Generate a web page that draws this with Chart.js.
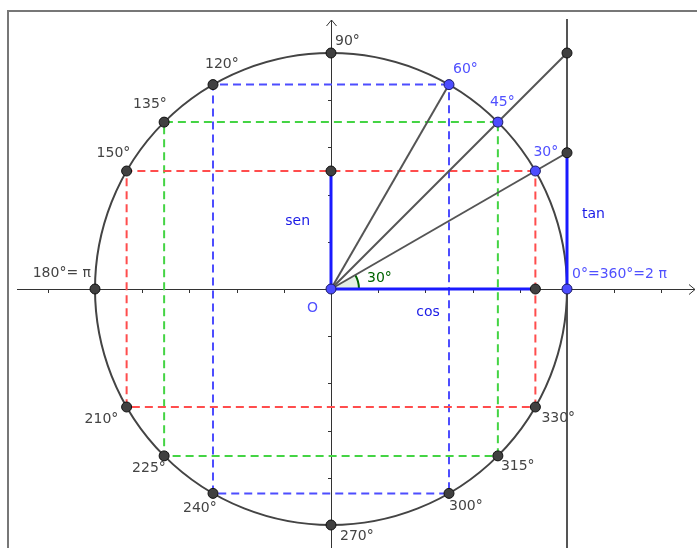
<!DOCTYPE html>
<html>
<head>
<meta charset="utf-8">
<script src="https://cdn.jsdelivr.net/npm/chart.js@4"></script>
<style>
  body { margin: 0; background: #fff; }
  canvas { display: block; }
</style>
</head>
<body>
<canvas id="circulo" width="697" height="548"></canvas>
<script>
// -------------------- DADOS --------------------
const angulos = [0, 30, 45, 60, 90, 120, 135, 150, 180, 210, 225, 240, 270, 300, 315, 330];
const rotulosAngulos = ['0°=360°=2 π', '30°', '45°', '60°', '90°', '120°', '135°', '150°',
  '180°= π', '210°', '225°', '240°', '270°', '300°', '315°', '330°'];
const angulosDestaque = [0, 30, 45, 60];     // pontos azuis
const angulosProjecao = [30, 45, 60];        // retângulos tracejados
const coresProjecao = ['#ff4d4d', '#44d444', '#4d4dff'];
const angulosTangente = [30, 45];            // raios prolongados até a reta tangente
const anguloExemplo = 30;                    // sen, cos e tan desenhados
const ticksX = [-1.2, -1.0, -0.8, -0.6, -0.4, -0.2, 0.2, 0.4, 0.6, 0.8, 1.0, 1.2, 1.4];
const ticksY = [-1.0, -0.8, -0.6, -0.4, -0.2, 0.2, 0.4, 0.6, 0.8, 1.0];

// -------------------- LAYOUT --------------------
const LARG = 697, ALT = 548;
const ORIGEM_PX = { x: 331, y: 289 };
const UNIDADE = 236;
const FONTE = '14px "DejaVu Sans", sans-serif';

// deslocamento dos rótulos em relação ao ponto: [dx, dy, alinhamento]
const deslocRotulos = {
  0: [5, -15, 'left'], 30: [-2, -19, 'left'], 45: [-8, -20, 'left'], 60: [4, -15, 'left'],
  90: [4, -12, 'left'], 120: [-8, -20, 'left'], 135: [-31, -18, 'left'], 150: [-30, -18, 'left'],
  180: [-4, -16, 'right'], 210: [-42, 12, 'left'], 225: [-32, 12, 'left'], 240: [-30, 15, 'left'],
  270: [9, 11, 'left'], 300: [0, 13, 'left'], 315: [3, 10, 'left'], 330: [6, 11, 'left'],
};

const rad = g => g * Math.PI / 180;
const pt = g => ({ x: Math.cos(rad(g)), y: Math.sin(rad(g)) });

// -------------------- DATASETS --------------------
const datasets = [];

// pontos (no topo)
const pontosCinza = angulos.filter(a => !angulosDestaque.includes(a)).map(pt);
const ex = pt(anguloExemplo);
const tanEx = Math.tan(rad(anguloExemplo));
pontosCinza.push({ x: 0, y: ex.y }, { x: ex.x, y: 0 });
angulosTangente.forEach(a => pontosCinza.push({ x: 1, y: Math.tan(rad(a)) }));
const pontosAzuis = angulosDestaque.map(pt).concat([{ x: 0, y: 0 }]);

datasets.push({
  data: pontosAzuis, showLine: false, order: 0,
  pointRadius: 5, pointBackgroundColor: '#4d4dff', pointBorderColor: '#1a1a66', pointBorderWidth: 1,
});
datasets.push({
  data: pontosCinza, showLine: false, order: 0,
  pointRadius: 5, pointBackgroundColor: '#404040', pointBorderColor: '#111', pointBorderWidth: 1,
});

// sen, cos, tan
const segmentosAzuis = [
  [{ x: 0, y: 0 }, { x: 0, y: ex.y }],
  [{ x: 0, y: 0 }, { x: ex.x, y: 0 }],
  [{ x: 1, y: 0 }, { x: 1, y: tanEx }],
];
segmentosAzuis.forEach(seg => datasets.push({
  data: seg, showLine: true, order: 1, pointRadius: 0,
  borderColor: '#1a1aff', borderWidth: 3,
}));

// raios a partir da origem
const raios = [[{ x: 0, y: 0 }, pt(60)]];
angulosTangente.forEach(a => raios.push([{ x: 0, y: 0 }, { x: 1, y: Math.tan(rad(a)) }]));
raios.forEach(r => datasets.push({
  data: r, showLine: true, order: 2, pointRadius: 0,
  borderColor: '#555', borderWidth: 2,
}));

// projeções tracejadas
angulosProjecao.forEach((a, i) => {
  const p = pt(a);
  datasets.push({
    data: [{ x: p.x, y: p.y }, { x: -p.x, y: p.y }, { x: -p.x, y: -p.y }, { x: p.x, y: -p.y }, { x: p.x, y: p.y }],
    showLine: true, order: 3, pointRadius: 0,
    borderColor: coresProjecao[i], borderWidth: 2, borderDash: [8, 5],
  });
});

// -------------------- PLUGIN DE DESENHO --------------------
const desenhoCirculo = {
  id: 'desenhoCirculo',
  beforeDatasetsDraw(chart) {
    const { ctx, scales: { x, y } } = chart;
    const ox = x.getPixelForValue(0), oy = y.getPixelForValue(0);
    const r = x.getPixelForValue(1) - ox;
    ctx.save();

    // moldura
    ctx.strokeStyle = '#777';
    ctx.lineWidth = 2;
    ctx.beginPath();
    ctx.moveTo(LARG, 11); ctx.lineTo(8, 11); ctx.lineTo(8, ALT);
    ctx.stroke();

    // eixos
    ctx.strokeStyle = '#333';
    ctx.lineWidth = 1;
    ctx.beginPath();
    ctx.moveTo(17, oy + 0.5); ctx.lineTo(LARG - 2, oy + 0.5);
    ctx.moveTo(ox + 0.5, ALT); ctx.lineTo(ox + 0.5, 20);
    // setas
    ctx.moveTo(LARG - 8, oy - 4.5); ctx.lineTo(LARG - 2, oy + 0.5); ctx.lineTo(LARG - 8, oy + 5.5);
    ctx.moveTo(ox - 4.5, 26); ctx.lineTo(ox + 0.5, 20); ctx.lineTo(ox + 5.5, 26);
    // marcas
    ticksX.forEach(t => {
      const px = Math.round(x.getPixelForValue(t)) + 0.5;
      ctx.moveTo(px, oy); ctx.lineTo(px, oy + 4);
    });
    ticksY.forEach(t => {
      const py = Math.round(y.getPixelForValue(t)) + 0.5;
      ctx.moveTo(ox - 3, py); ctx.lineTo(ox + 1, py);
    });
    ctx.stroke();

    // reta tangente x = 1
    ctx.strokeStyle = '#555';
    ctx.lineWidth = 2;
    ctx.beginPath();
    ctx.moveTo(x.getPixelForValue(1), 19);
    ctx.lineTo(x.getPixelForValue(1), ALT);
    ctx.stroke();

    // circunferência
    ctx.strokeStyle = '#444';
    ctx.lineWidth = 2;
    ctx.beginPath();
    ctx.arc(ox, oy, r, 0, Math.PI * 2);
    ctx.stroke();

    // setor do ângulo
    const ra = 28;
    ctx.fillStyle = 'rgba(0, 100, 0, 0.1)';
    ctx.beginPath();
    ctx.moveTo(ox, oy);
    ctx.arc(ox, oy, ra, 0, -rad(anguloExemplo), true);
    ctx.closePath();
    ctx.fill();
    ctx.strokeStyle = '#006400';
    ctx.lineWidth = 2;
    ctx.beginPath();
    ctx.arc(ox, oy, ra, 0, -rad(anguloExemplo), true);
    ctx.stroke();

    ctx.restore();
  },
  afterDatasetsDraw(chart) {
    const { ctx, scales: { x, y } } = chart;
    const ox = x.getPixelForValue(0), oy = y.getPixelForValue(0);
    ctx.save();
    ctx.font = FONTE;
    ctx.textBaseline = 'middle';

    angulos.forEach((a, i) => {
      const p = pt(a);
      const [dx, dy, al] = deslocRotulos[a];
      ctx.fillStyle = angulosDestaque.includes(a) ? '#5050ff' : '#444';
      ctx.textAlign = al;
      ctx.fillText(rotulosAngulos[i], x.getPixelForValue(p.x) + dx, y.getPixelForValue(p.y) + dy);
    });

    ctx.fillStyle = '#1a1ae6';
    ctx.textAlign = 'right';
    ctx.fillText('sen', ox - 21, y.getPixelForValue(ex.y / 2) - 9);
    ctx.textAlign = 'left';
    ctx.fillText('tan', x.getPixelForValue(1) + 15, y.getPixelForValue(tanEx / 2) - 7);
    ctx.fillText('cos', x.getPixelForValue(ex.x / 2) - 17, oy + 23);

    ctx.fillStyle = '#5050ff';
    ctx.fillText('O', ox - 24, oy + 19);

    ctx.fillStyle = '#006400';
    ctx.fillText(anguloExemplo + '°', ox + 36, oy - 11);

    ctx.restore();
  }
};

// -------------------- GRÁFICO --------------------
const grafico = new Chart(document.getElementById('circulo'), {
  type: 'scatter',
  data: { datasets },
  plugins: [desenhoCirculo],
  options: {
    responsive: false,
    animation: false,
    events: [],
    layout: { padding: 0 },
    plugins: { legend: { display: false }, tooltip: { enabled: false } },
    scales: {
      x: { type: 'linear', display: false, min: -1.4, max: 1.55 },
      y: { type: 'linear', display: false, min: -1.1, max: 1.22 },
    },
  },
});

// a área do gráfico ganha uma margem por causa dos pontos: ajusta os limites
// para que a origem e a unidade caiam no mesmo lugar da figura
const area = grafico.chartArea;
grafico.options.scales.x.min = -(ORIGEM_PX.x - area.left) / UNIDADE;
grafico.options.scales.x.max = (area.right - ORIGEM_PX.x) / UNIDADE;
grafico.options.scales.y.min = -(area.bottom - ORIGEM_PX.y) / UNIDADE;
grafico.options.scales.y.max = (ORIGEM_PX.y - area.top) / UNIDADE;
grafico.update();
</script>
</body>
</html>
